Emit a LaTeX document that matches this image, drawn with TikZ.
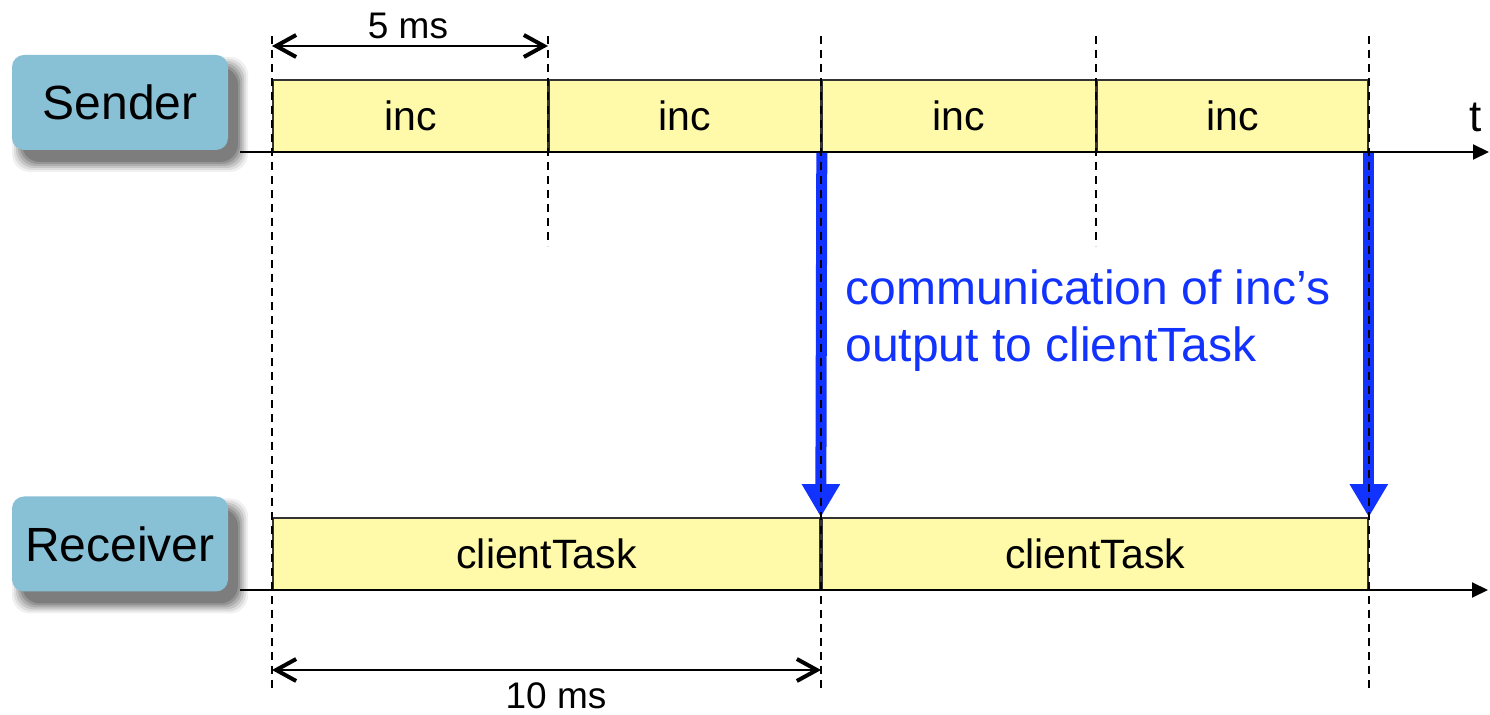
\documentclass[tikz,border=0pt]{standalone}
\usepackage{fontspec}
\setmainfont{Liberation Sans}
\usetikzlibrary{arrows.meta}
\definecolor{lblue}{RGB}{136,192,214}
\definecolor{tyellow}{RGB}{255,250,170}
\definecolor{cblue}{RGB}{18,50,255}
\tikzset{
  lbl/.style={fill=lblue, draw=none, rounded corners=6pt, minimum width=108pt, minimum height=47.5pt, font=\fontsize{24}{28}\selectfont},
  task/.style={fill=tyellow, draw=black!80, line width=0.8pt, minimum height=36pt, inner sep=0pt, font=\fontsize{20.5}{24}\selectfont},
  axis/.style={line width=1pt, -{Triangle[length=8pt,width=7.5pt]}},
  guide/.style={line width=0.8pt, dash pattern=on 4pt off 3pt},
  dim/.style={line width=1pt, {Straight Barb[length=10pt,width=11pt,line width=2pt]}-{Straight Barb[length=10pt,width=11pt,line width=2pt]}},
  comm/.style={cblue, line width=5.5pt, -{Triangle[length=16.5pt,width=18pt]}},
  dimtxt/.style={font=\fontsize{18.5}{22}\selectfont, inner sep=0pt}
}
\begin{document}
\begin{tikzpicture}[x=0.5pt,y=-0.5pt]
\useasboundingbox (0,0) rectangle (1490,715);
% shadows of the labels
\foreach \cy in {102.5,544}{
  \foreach \s/\o in {10/0.06,8/0.08,6/0.1,4/0.12,2/0.14,0/0.16}{
    \fill[black, opacity=\o, rounded corners=9pt] (12+10-\s,\cy-47.5+12-\s) rectangle (228+10+\s,\cy+47.5+12+\s);
  }
}
\node[lbl] (snd) at (120,102.5) {Sender};
\node[lbl] (rcv) at (120,544) {Receiver};
% task boxes
\node[task, minimum width=137.5pt] (i1) at (410.5,116) {inc};
\node[task, minimum width=136pt] (i2) at (685,116) {inc};
\node[task, minimum width=137pt] (i3) at (959,116) {inc};
\node[task, minimum width=135.5pt] (i4) at (1232.5,116) {inc};
\node[task, minimum width=273.5pt] (c1) at (546.5,554) {clientTask};
\node[task, minimum width=273pt] (c2) at (1095,554) {clientTask};
% axes
\coordinate (sa0) at (240,152); \coordinate (sa1) at (1489,152);
\coordinate (ra0) at (240,590); \coordinate (ra1) at (1488,590);
\draw[axis] (sa0) -- (sa1);
\draw[axis] (ra0) -- (ra1);
\node[font=\fontsize{22}{26}\selectfont, inner sep=0pt] (t) at (1476,117) {t};
% communication arrows
\draw[comm] (i2.south east) -- (c1.north east);
\draw[comm] (i4.south east) -- (c2.north east);
% guides
\coordinate (g1a) at (272,36);  \coordinate (g1b) at (272,690);
\coordinate (g2a) at (548,36);  \coordinate (g2b) at (548,246);
\coordinate (g3a) at (821,36);  \coordinate (g3b) at (821,690);
\coordinate (g4a) at (1096,36); \coordinate (g4b) at (1096,246);
\coordinate (g5a) at (1369,36); \coordinate (g5b) at (1369,690);
\foreach \g in {1,...,5}{\draw[guide] (g\g a) -- (g\g b);}
% dimensions
\coordinate (d1a) at (272,46); \coordinate (d1b) at (548,46);
\coordinate (d2a) at (272,670); \coordinate (d2b) at (821,670);
\draw[dim] (d1a) -- (d1b);
\draw[dim] (d2a) -- (d2b);
\node[dimtxt] (l5) at (408,26) {5 ms};
\node[dimtxt] (l10) at (556,696) {10 ms};
% comm label
\node[cblue, anchor=west, align=left, inner sep=0pt, font=\fontsize{24}{28.5}\selectfont] (ctext) at (845,321) {communication of inc’s\\output to clientTask};
\end{tikzpicture}
\end{document}
